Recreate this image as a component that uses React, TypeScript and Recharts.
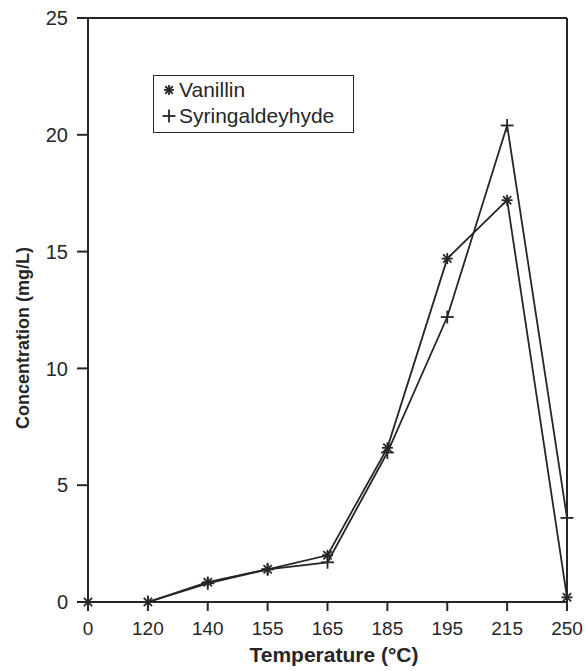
import { LineChart, Line, XAxis, YAxis, ReferenceLine } from "recharts";

const temperatures = ["0", "120", "140", "155", "165", "185", "195", "215", "250"];
const vanillin = [0, 0, 0.85, 1.4, 2.0, 6.6, 14.7, 17.2, 0.2];
const syringaldehyde = [0, 0, 0.8, 1.4, 1.7, 6.4, 12.2, 20.4, 3.6];
const yTicks = [0, 5, 10, 15, 20, 25];

const ink = "#262626";
const font = "'Liberation Sans', Arial, sans-serif";

const data = temperatures.map((t, i) => ({
    temp: t,
    vanillin: vanillin[i],
    syringaldehyde: syringaldehyde[i],
}));

function Asterisk({ cx, cy, r = 5.5 }: { cx: number; cy: number; r?: number }) {
    const d = r * 0.75;
    return (
        <g stroke={ink} strokeWidth={1.8}>
            <line x1={cx - r} y1={cy} x2={cx + r} y2={cy} />
            <line x1={cx} y1={cy - r} x2={cx} y2={cy + r} />
            <line x1={cx - d} y1={cy - d} x2={cx + d} y2={cy + d} />
            <line x1={cx - d} y1={cy + d} x2={cx + d} y2={cy - d} />
        </g>
    );
}

function Plus({ cx, cy, r = 6.5 }: { cx: number; cy: number; r?: number }) {
    return (
        <g stroke={ink} strokeWidth={1.8}>
            <line x1={cx - r} y1={cy} x2={cx + r} y2={cy} />
            <line x1={cx} y1={cy - r} x2={cx} y2={cy + r} />
        </g>
    );
}

// legend drawn as an overlay so it doesn't eat into the plot area
function LegendBox() {
    const row = { position: "absolute" as const, left: 8, display: "flex", alignItems: "center", height: 26 };
    return (
        <div
            style={{
                position: "absolute",
                left: 153,
                top: 75,
                width: 201,
                height: 58,
                border: `1.5px solid ${ink}`,
                boxSizing: "border-box",
                fontFamily: font,
                fontSize: 21,
                color: ink,
                background: "#fff",
            }}
        >
            <div style={{ ...row, top: 1 }}>
                <svg width={14} height={14}>
                    <Asterisk cx={7} cy={7} r={5} />
                </svg>
                <span style={{ marginLeft: 3 }}>Vanillin</span>
            </div>
            <div style={{ ...row, top: 27 }}>
                <svg width={14} height={14}>
                    <Plus cx={7} cy={7} r={6.5} />
                </svg>
                <span style={{ marginLeft: 3 }}>Syringaldeyhyde</span>
            </div>
        </div>
    );
}

export default function App() {
    return (
        <div style={{ position: "absolute", left: 0, top: 0, width: 587, height: 671, background: "#fff" }}>
            <LineChart
                width={587}
                height={671}
                data={data}
                margin={{ top: 18, right: 20, left: 0, bottom: 0 }}
            >
                <XAxis
                    dataKey="temp"
                    height={69}
                    interval={0}
                    tickSize={9}
                    tickMargin={11}
                    tick={{ fill: ink, fontSize: 19, fontFamily: font }}
                    stroke={ink}
                    strokeWidth={2}
                    label={() => (
                        <text x={334} y={662} textAnchor="middle" fill={ink} fontSize={21} fontWeight="bold" fontFamily={font}>
                            Temperature (°C)
                        </text>
                    )}
                />
                <YAxis
                    width={88}
                    domain={[0, 25]}
                    ticks={yTicks}
                    tickSize={11}
                    tickMargin={9}
                    tick={{ fill: ink, fontSize: 20, fontFamily: font }}
                    stroke={ink}
                    strokeWidth={2}
                    label={() => (
                        <text
                            transform="translate(29,338) rotate(-90)"
                            textAnchor="middle"
                            fill={ink}
                            fontSize={18}
                            fontWeight="bold"
                            fontFamily={font}
                        >
                            Concentration (mg/L)
                        </text>
                    )}
                />
                {/* frame on top and right */}
                <ReferenceLine y={25} stroke={ink} strokeWidth={2} />
                <ReferenceLine x="250" stroke={ink} strokeWidth={2} />
                <Line
                    type="linear"
                    dataKey="vanillin"
                    name="Vanillin"
                    stroke={ink}
                    strokeWidth={1.8}
                    dot={(p: any) => <Asterisk key={`v${p.index}`} cx={p.cx} cy={p.cy} />}
                    isAnimationActive={false}
                />
                <Line
                    type="linear"
                    dataKey="syringaldehyde"
                    name="Syringaldeyhyde"
                    stroke={ink}
                    strokeWidth={1.8}
                    dot={(p: any) => <Plus key={`s${p.index}`} cx={p.cx} cy={p.cy} />}
                    isAnimationActive={false}
                />
            </LineChart>
            <LegendBox />
        </div>
    );
}
